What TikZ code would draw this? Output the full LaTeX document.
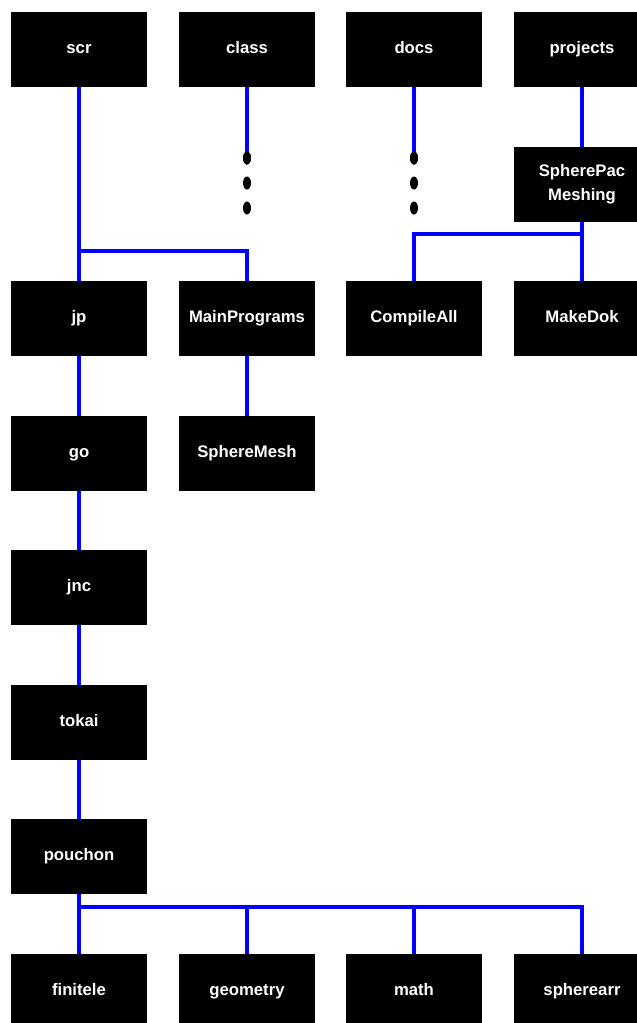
\documentclass[tikz,border=0pt]{standalone}
\usepackage{fontspec}
\setmainfont{Liberation Sans}
\usetikzlibrary{shapes.geometric}
\tikzset{
  boxbase/.style={fill=black, text=white, minimum width=136pt, minimum height=75pt, inner sep=0pt,
    font=\fontsize{16.7}{24}\selectfont\bfseries, align=center},
  box/.style={boxbase, text height=12.2pt, text depth=4.8pt},
  dotmark/.style={shape=ellipse, fill=black, minimum width=8pt, minimum height=13pt, inner sep=0pt},
  conn/.style={draw=blue, line width=4pt}
}
\begin{document}
\begin{tikzpicture}[x=1pt,y=-1pt]
\useasboundingbox (0,0) rectangle (637,1023);
\clip (0,0) rectangle (637,1023);
% row 1
\node[box] (scr) at (79,49.5) {scr};
\node[box] (class) at (247,49.5) {class};
\node[box] (docs) at (414,49.5) {docs};
\node[box] (projects) at (582,49.5) {projects};
% SpherePac
\node[boxbase] (spm) at (582,184.5) {SpherePac\\Meshing};
% dots
\node[dotmark] (c1) at (247,158) {};
\node[dotmark] (c2) at (247,183) {};
\node[dotmark] (c3) at (247,208) {};
\node[dotmark] (d1) at (414,158) {};
\node[dotmark] (d2) at (414,183) {};
\node[dotmark] (d3) at (414,208) {};
% row 2
\node[box] (jp) at (79,318.5) {jp};
\node[box] (mainprog) at (247,318.5) {MainPrograms};
\node[box] (compileall) at (414,318.5) {CompileAll};
\node[box] (makedok) at (582,318.5) {MakeDok};
% row 3
\node[box] (go) at (79,453.5) {go};
\node[box] (spheremesh) at (247,453.5) {SphereMesh};
% chain
\node[box] (jnc) at (79,587.5) {jnc};
\node[box] (tokai) at (79,722.5) {tokai};
\node[box] (pouchon) at (79,856.5) {pouchon};
% bottom row
\node[box] (finitele) at (79,991.5) {finitele};
\node[box] (geometry) at (247,991.5) {geometry};
\node[box] (math) at (414,991.5) {math};
\node[box] (spherearr) at (582,991.5) {spherearr};
% coordinates
\coordinate (b1) at (79,251);
\coordinate (b2) at (582,234);
\coordinate (b3) at (79,907);
% connectors
\draw[conn] (scr.south) -- (jp.north);
\draw[conn] (b1) -| (mainprog.north);
\draw[conn] (class.south) -- (c1.center);
\draw[conn] (docs.south) -- (d1.center);
\draw[conn] (projects.south) -- (spm.north);
\draw[conn] (spm.south) -- (makedok.north);
\draw[conn] (b2) -| (compileall.north);
\draw[conn] (jp.south) -- (go.north);
\draw[conn] (mainprog.south) -- (spheremesh.north);
\draw[conn] (go.south) -- (jnc.north);
\draw[conn] (jnc.south) -- (tokai.north);
\draw[conn] (tokai.south) -- (pouchon.north);
\draw[conn] (pouchon.south) -- (finitele.north);
\draw[conn] (b3) -| (geometry.north);
\draw[conn] (b3) -| (math.north);
\draw[conn] (b3) -| (spherearr.north);
\node[dotmark] at (c1) {};
\node[dotmark] at (d1) {};
\end{tikzpicture}
\end{document}
